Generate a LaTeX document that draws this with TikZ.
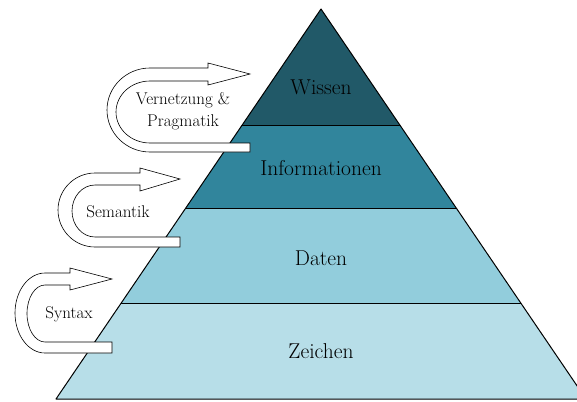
\documentclass[tikz,border=0pt]{standalone}
\usepackage{tikz}
\usetikzlibrary{positioning}
\usepackage{xcolor}
\definecolor{wissencol}{HTML}{215968}
\definecolor{infocol}{HTML}{31859C}
\definecolor{datencol}{HTML}{92CDDC}
\definecolor{zeichencol}{HTML}{B7DEE8}
\tikzset{layer/.style={draw=black, line width=1pt, line join=round},
	layer text/.style={font=\fontsize{21.5}{25}\selectfont},
	turn text/.style={font=\fontsize{17}{22}\selectfont, align=center},
	turn arrow/.style={draw=black, fill=white, line width=0.6pt, line join=miter}
}

\begin{document}
\begin{tikzpicture}[x=1pt, y=-1pt]
		\clip (0, 0) rectangle (577, 401);

		% pyramid corners
		\coordinate (apex) at (321, 9);
		\coordinate (wl) at (242.2, 125);
		\coordinate (wr) at (399.8, 125);
		\coordinate (il) at (185.8, 208);
		\coordinate (ir) at (456.2, 208);
		\coordinate (dl) at (121.2, 303);
		\coordinate (dr) at (520.8, 303);
		\coordinate (zl) at (56, 399);
		\coordinate (zr) at (586, 399);

		\fill[wissencol] (apex) -- (wr) -- (wl) -- cycle;
		\fill[infocol] (wl) -- (wr) -- (ir) -- (il) -- cycle;
		\fill[datencol] (il) -- (ir) -- (dr) -- (dl) -- cycle;
		\fill[zeichencol] (dl) -- (dr) -- (zr) -- (zl) -- cycle;
		\draw[layer] (wl) -- (wr);
		\draw[layer] (il) -- (ir);
		\draw[layer] (dl) -- (dr);
		\draw[layer] (apex) -- (zr) -- (zl) -- cycle;

		\node[layer text] (wissen) at (321, 87) {Wissen};
		\node[layer text] (info) at (321, 168) {Informationen};
		\node[layer text] (daten) at (321, 258) {Daten};
		\node[layer text] (zeichen) at (321, 351) {Zeichen};

		% u-turn arrows
		\draw[turn arrow] (250, 143) -- (150, 143) arc[start angle=90, end angle=270, x radius=34, y radius=31]
			-- (208, 81) -- (208, 85) -- (250, 74) -- (208, 63) -- (208, 68) -- (150, 68)
			arc[start angle=270, end angle=90, x radius=43, y radius=42] -- (250, 152) -- cycle;
		\draw[turn arrow] (180, 237) -- (95, 237) arc[start angle=90, end angle=270, x radius=23, y radius=26]
			-- (140, 185) -- (140, 191) -- (180, 179) -- (140, 168) -- (140, 173) -- (95, 173)
			arc[start angle=270, end angle=90, x radius=37, y radius=37] -- (180, 247) -- cycle;
		\draw[turn arrow] (112, 342) -- (45, 342) arc[start angle=90, end angle=270, x radius=18, y radius=28.5]
			-- (70, 285) -- (70, 290) -- (112, 279) -- (70, 268) -- (70, 273) -- (45, 273)
			arc[start angle=270, end angle=90, x radius=30, y radius=40] -- (112, 353) -- cycle;

		\node[turn text] (pragmatik) at (183, 111) {Vernetzung \&\\Pragmatik};
		\node[turn text] (semantik) at (118, 212) {Semantik};
		\node[turn text] (syntax) at (69, 314) {Syntax};
	\end{tikzpicture}
\end{document}
